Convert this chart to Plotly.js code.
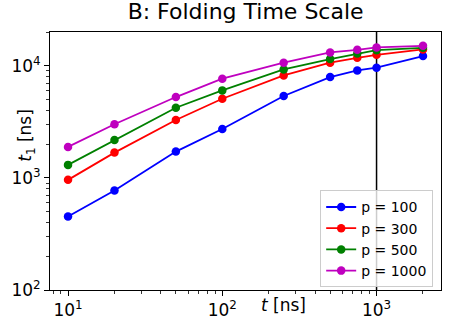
<!DOCTYPE html>
<html><head><meta charset="utf-8">
<script src="https://cdn.plot.ly/plotly-3.0.1.min.js"></script>
<style>html,body{margin:0;padding:0;background:#fff}</style>
</head><body><div id="chart" style="width:449px;height:326px"></div>
<script>
const tValues = [10, 20, 50, 100, 250, 500, 750, 1000, 2000];
const seriesNames = ['p = 100', 'p = 300', 'p = 500', 'p = 1000'];
const t1_p100  = [453, 771, 1715, 2730, 5370, 7930, 9090, 9600, 12190];
const t1_p300  = [960, 1680, 3280, 5080, 8200, 10640, 11780, 12530, 13970];
const t1_p500  = [1306, 2180, 4225, 6030, 9280, 11470, 12880, 13780, 14460];
const t1_p1000 = [1888, 3010, 5260, 7660, 10640, 13150, 13880, 14560, 15060];
const colors = ['#0000ff', '#ff0000', '#008000', '#bf00bf'];
const xTickVals = [10, 100, 1000];
const xTickText = ['10<sup>1</sup>', '10<sup>2</sup>', '10<sup>3</sup>'];
const yTickVals = [100, 1000, 10000];
const yTickText = ['10<sup>2</sup>', '10<sup>3</sup>', '10<sup>4</sup>'];
const vlineX = 1000;

const allY = [t1_p100, t1_p300, t1_p500, t1_p1000];
const traces = allY.map((ys, i) => ({
  x: tValues, y: ys, name: seriesNames[i], type: 'scatter', mode: 'lines+markers',
  line: {color: colors[i], width: 1.8},
  marker: {color: colors[i], size: 8.5}
}));

function minorVals(lo, hi) {
  const v = [];
  for (let d = lo; d < hi; d *= 10) for (let k = 2; k <= 9; k++) v.push(d * k);
  return v;
}

const font = {family: 'DejaVu Sans', color: '#000'};
const layout = {
  width: 449, height: 326,
  margin: {l: 50, r: 8, t: 32, b: 36},
  paper_bgcolor: '#fff', plot_bgcolor: '#fff',
  font: Object.assign({size: 14}, font),
  title: {text: 'B: Folding Time Scale', font: Object.assign({size: 22}, font), x: 0.547, xanchor: 'center', y: 0.99, yanchor: 'top'},
  showlegend: true,
  legend: {x: 0.98, xanchor: 'right', y: 0.01, yanchor: 'bottom', bgcolor: 'rgba(255,255,255,0.8)', bordercolor: '#cccccc', borderwidth: 1, font: Object.assign({size: 14}, font), tracegroupgap: 0},
  xaxis: {
    type: 'log', range: [Math.log10(7.64), Math.log10(2617)],
    tickmode: 'array', tickvals: xTickVals, ticktext: xTickText,
    ticks: 'outside', ticklen: 5, tickwidth: 1, tickcolor: '#000',
    tickfont: Object.assign({size: 17}, font),
    showgrid: false, zeroline: false, showline: true, linecolor: '#000', linewidth: 1, mirror: true,
    minor: {tickmode: 'array', tickvals: minorVals(1, 10000), ticks: 'outside', ticklen: 3, tickwidth: 0.8, tickcolor: '#000', showgrid: false}
  },
  yaxis: {
    type: 'log', range: [2, Math.log10(20000)],
    tickmode: 'array', tickvals: yTickVals, ticktext: yTickText,
    ticks: 'outside', ticklen: 5, tickwidth: 1, tickcolor: '#000',
    tickfont: Object.assign({size: 17}, font),
    showgrid: false, zeroline: false, showline: true, linecolor: '#000', linewidth: 1, mirror: true,
    minor: {tickmode: 'array', tickvals: minorVals(100, 100000), ticks: 'outside', ticklen: 3, tickwidth: 0.8, tickcolor: '#000', showgrid: false}
  },
  shapes: [{type: 'line', xref: 'x', yref: 'paper', x0: vlineX, x1: vlineX, y0: 0, y1: 1, line: {color: '#000', width: 1.5}, layer: 'below'}],
  annotations: [
    {text: '<i>t</i> [ns]', xref: 'paper', yref: 'paper', x: 0.596, y: -0.058, xanchor: 'center', yanchor: 'middle', showarrow: false, font: Object.assign({size: 17}, font)},
    {text: '<i>t</i><sub>1</sub> [ns]', xref: 'paper', yref: 'paper', x: -0.06, y: 0.6, xanchor: 'center', yanchor: 'middle', textangle: -90, showarrow: false, font: Object.assign({size: 17}, font)}
  ]
};
Plotly.newPlot('chart', traces, layout, {staticPlot: true, displayModeBar: false});
</script></body></html>
